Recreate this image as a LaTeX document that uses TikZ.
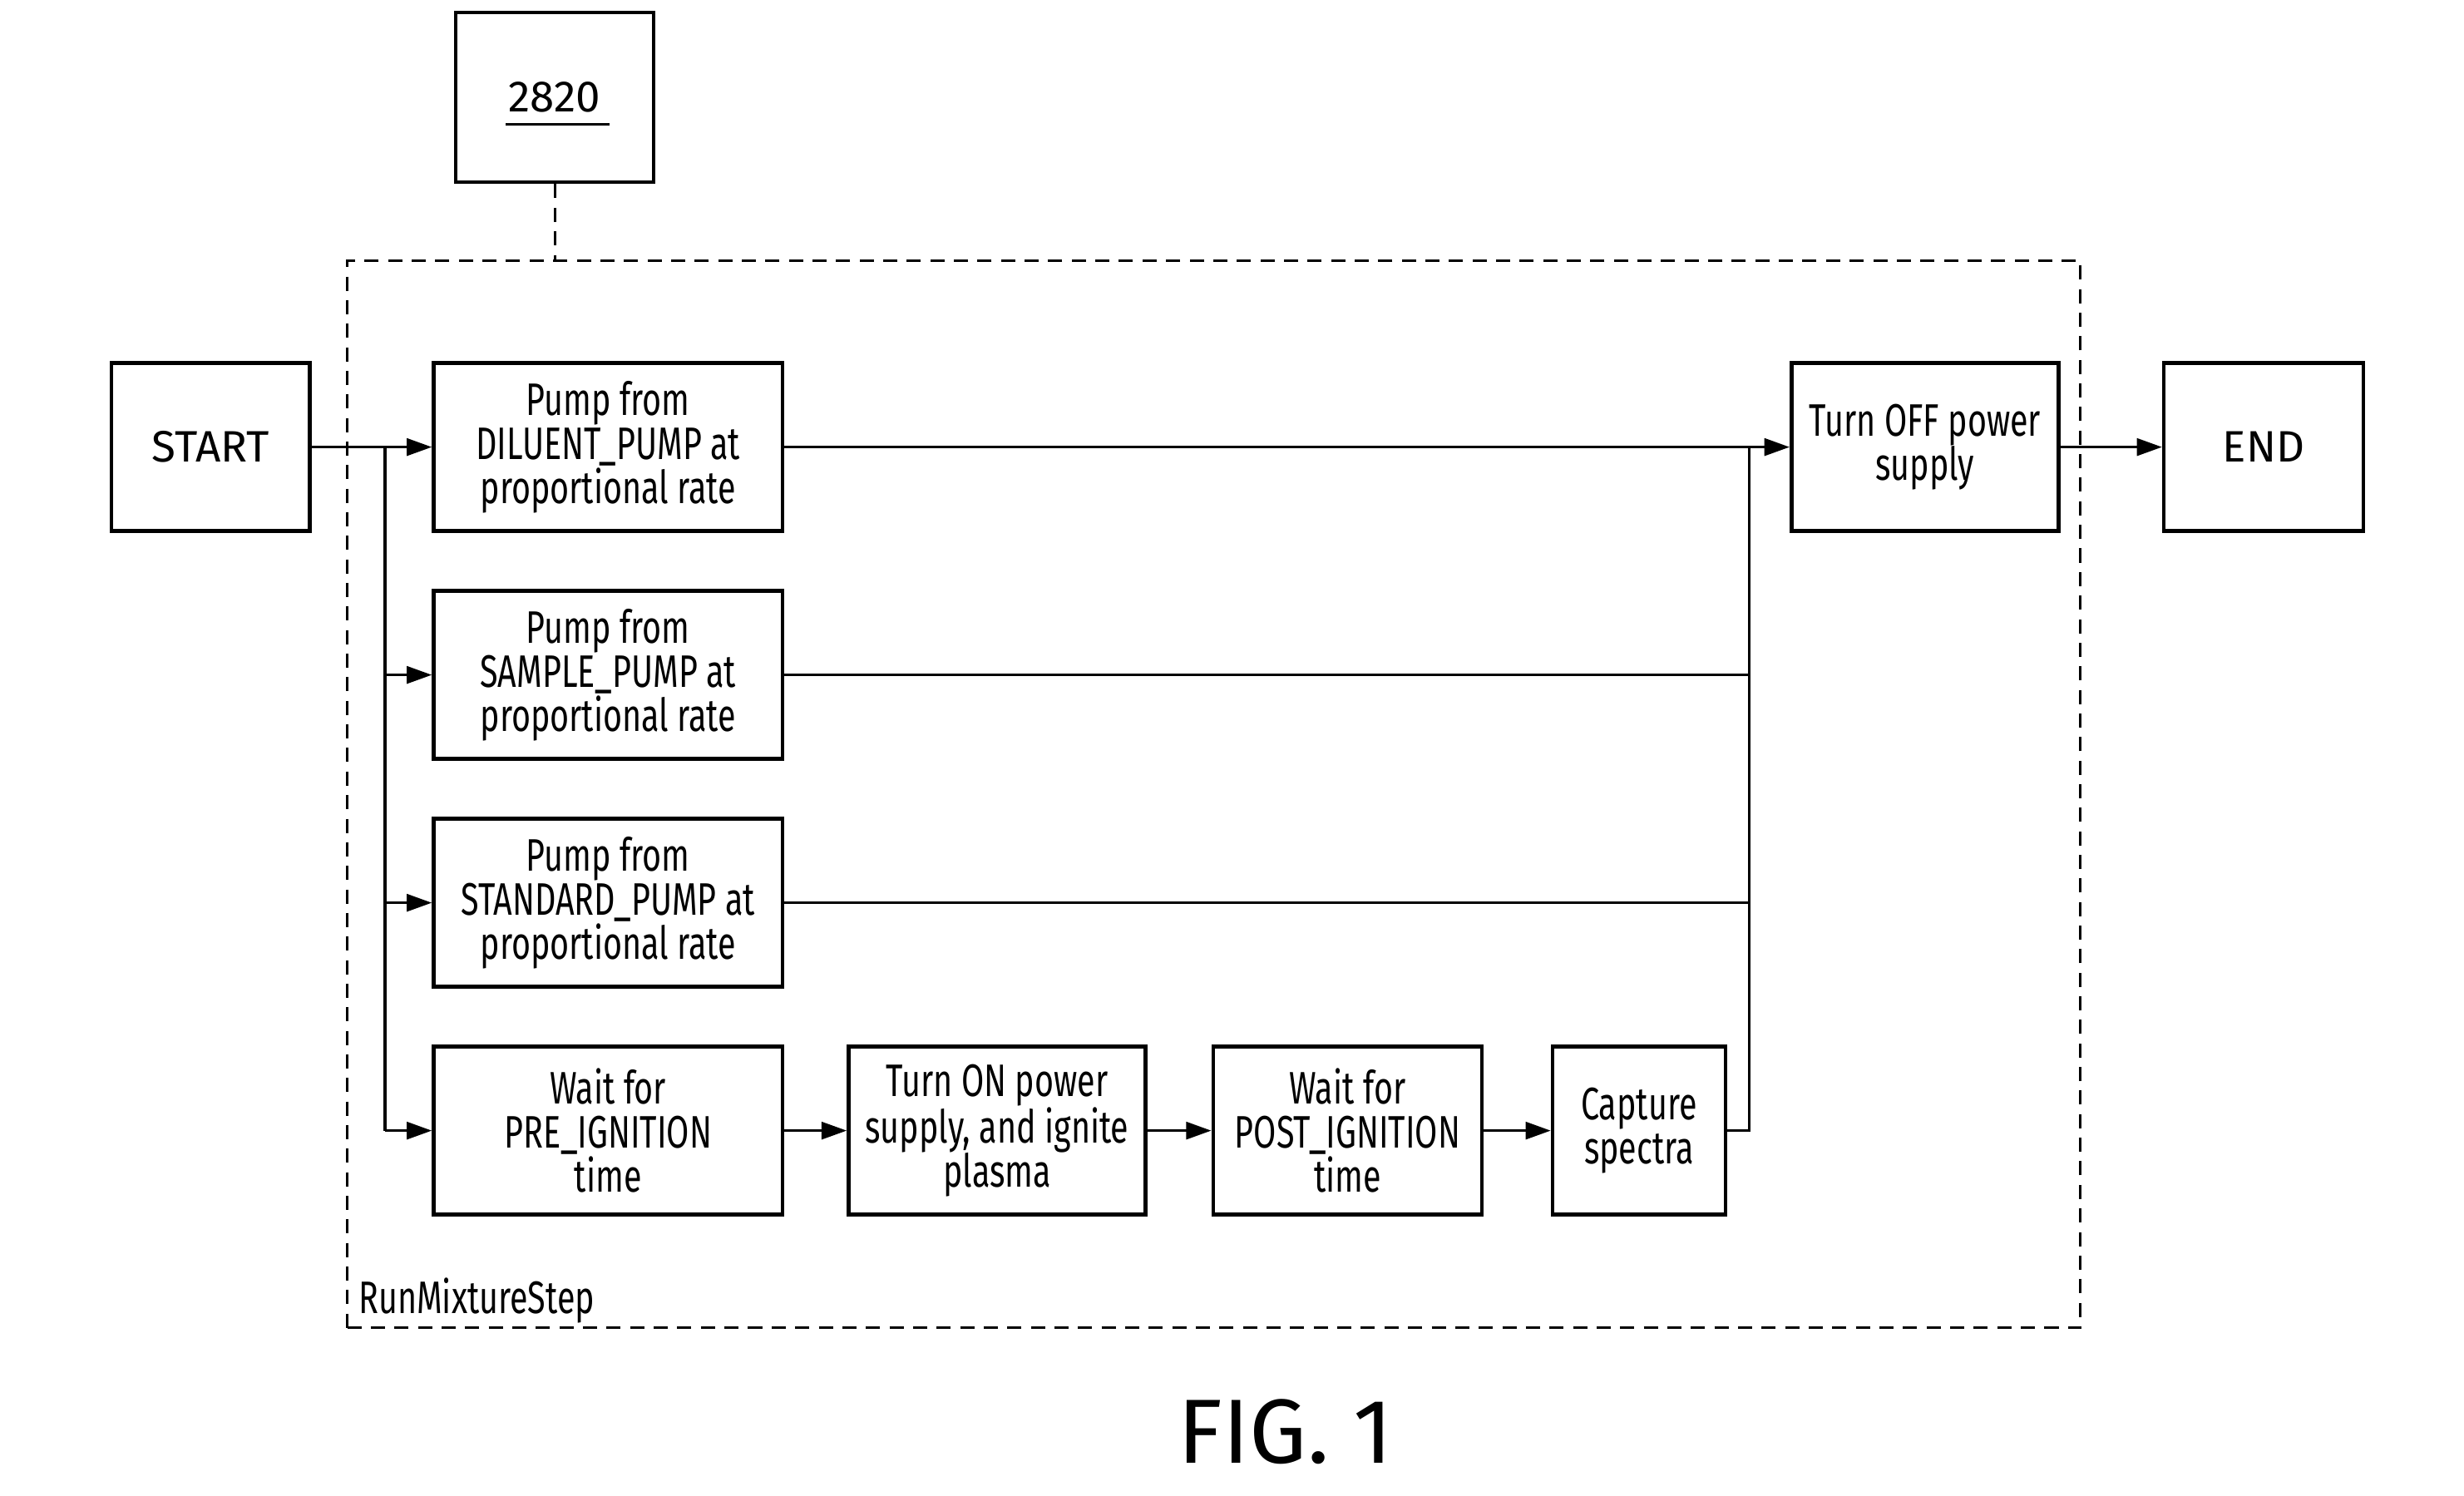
\documentclass[tikz,border=0pt]{standalone}
\usepackage{fontspec}
\usetikzlibrary{arrows.meta,calc}
\newfontfamily\condfont[FakeStretch=0.72]{Fira Sans}
\newfontfamily\figfont{Fira Sans}
\begin{document}
\begin{tikzpicture}[x=1pt,y=-1pt,
  blk/.style={draw, line width=2.4pt, minimum height=107pt, inner sep=0pt, align=center,
    font=\condfont\fontsize{29}{28}\selectfont},
  bigblk/.style={blk, font=\figfont\fontsize{28}{30}\selectfont},
  conn/.style={line width=1.7pt},
  arr/.style={line width=1.7pt, -{Triangle[length=16pt,width=11pt]}},
  dsh/.style={line width=1.6pt, dash pattern=on 9pt off 6pt}]
\useasboundingbox (0,0) rectangle (1568,952);
% frame
\node[dsh, draw, minimum width=1103pt, minimum height=679pt, inner sep=0pt] (frame) at (772.5,505.5) {};
\node[anchor=base west, inner sep=0pt, font=\condfont\fontsize{29}{28}\selectfont] (lbl) at (228,836) {RunMixtureStep};
% top reference box
\node[bigblk, minimum width=126pt, minimum height=108pt] (ref) at (353,62) {2820};
\draw[line width=1.8pt] ($(ref.center)+(-31,17)$) coordinate (ula) -- ($(ref.center)+(35,17)$) coordinate (ulb);
\draw[dsh] (ref.south) -- (ref.south |- frame.north);
% nodes
\node[bigblk, minimum width=126pt] (start) at (134,284.5) {START};
\node[blk, minimum width=222pt] (p1) at (387,284.5) {Pump from\\DILUENT\_PUMP at\\proportional rate};
\node[blk, minimum width=222pt] (p2) at (387,429.5) {Pump from\\SAMPLE\_PUMP at\\proportional rate};
\node[blk, minimum width=222pt] (p3) at (387,574.5) {Pump from\\STANDARD\_PUMP at\\proportional rate};
\node[blk, minimum width=222pt] (p4) at (387,719.5) {Wait for\\PRE\_IGNITION\\time};
\node[blk, minimum width=189pt] (on) at (634.5,719.5) {Turn ON power\\supply, and ignite\\plasma};
\node[blk, minimum width=171pt] (post) at (857.5,719.5) {Wait for\\POST\_IGNITION\\time};
\node[blk, minimum width=110pt] (cap) at (1043,719.5) {Capture\\spectra};
\node[blk, minimum width=170pt] (off) at (1225,284.5) {Turn OFF power\\supply};
\node[bigblk, minimum width=127pt] (end) at (1440.5,284.5) {END};
% connectors
\coordinate (br) at (245,284.5);
\coordinate (mg) at (1113,284.5);
\draw[arr] (start.east) -- (p1.west);
\draw[conn] (br) -- (br |- p4.west);
\draw[arr] (br |- p2.west) -- (p2.west);
\draw[arr] (br |- p3.west) -- (p3.west);
\draw[arr] (br |- p4.west) -- (p4.west);
\draw[arr] (p1.east) -- (off.west);
\draw[conn] (p2.east) -- (mg |- p2.east);
\draw[conn] (p3.east) -- (mg |- p3.east);
\draw[conn] (cap.east) -| (mg);
\draw[arr] (p4.east) -- (on.west);
\draw[arr] (on.east) -- (post.west);
\draw[arr] (post.east) -- (cap.west);
\draw[arr] (off.east) -- (end.west);
% caption
\node[anchor=base, inner sep=0pt, font=\figfont\fontsize{58}{60}\selectfont] (fig) at (818,931) {FIG. 1};
\end{tikzpicture}
\end{document}
